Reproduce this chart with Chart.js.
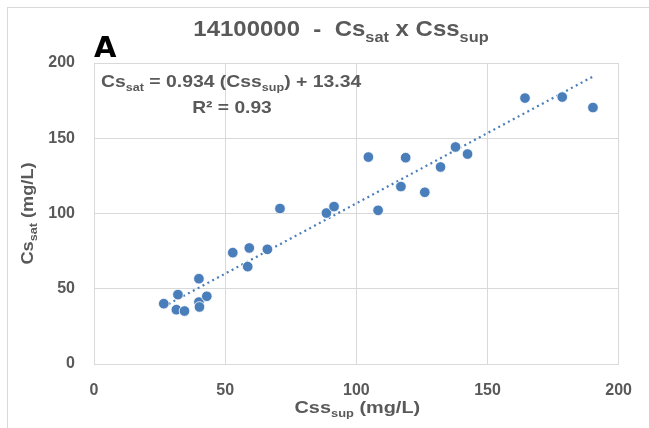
<!DOCTYPE html>
<html>
<head>
<meta charset="utf-8">
<script src="https://cdn.jsdelivr.net/npm/chart.js@4"></script>
<style>
  html, body { margin: 0; padding: 0; background: #fff; }
  #wrap { width: 649px; height: 428px; position: relative; }
</style>
</head>
<body>
<div id="wrap"><canvas id="chart"></canvas></div>
<script>
/* ── data ── */
const cssSup = [26.6, 32.0, 31.4, 34.5, 40.0, 40.0, 40.2, 43.0, 52.9, 59.2, 58.6, 66.1, 70.9,
                88.6, 91.5, 104.6, 108.3, 117.0, 118.8, 126.1, 132.1, 137.8, 142.4, 164.3, 178.5, 190.2];
const csSat  = [40.1, 46.1, 36.1, 35.2, 56.7, 41.2, 37.9, 45.0, 74.0, 77.1, 64.7, 76.2, 103.3,
                100.3, 104.6, 137.5, 102.1, 117.9, 137.1, 114.1, 130.9, 144.2, 139.5, 176.7, 177.4, 170.4];
const xTicks = [0, 50, 100, 150, 200];
const yTicks = [0, 50, 100, 150, 200];
const SLOPE = 0.934;
const INTERCEPT = 13.34;

const BLUE = '#4A7EBB';
const GRAY_TXT = '#595959';
const GRID = '#D9D9D9';
const FONT = '"Liberation Sans", Arial, sans-serif';

const points = cssSup.map((x, i) => ({ x, y: csSat[i] }));
const xMin = Math.min(...cssSup), xMax = Math.max(...cssSup);
const trend = [xMin, xMax].map(x => ({ x, y: SLOPE * x + INTERCEPT }));

/* draw text with subscripts: segs = [[text, isSub], ...] */
function richText(ctx, segs, x, y, size, align, sx) {
  sx = sx || 1;
  const subSize = Math.round(size * 0.66);
  let w = 0;
  segs.forEach(([t, sub]) => {
    ctx.font = 'bold ' + (sub ? subSize : size) + 'px ' + FONT;
    w += ctx.measureText(t).width;
  });
  ctx.save();
  ctx.translate(x, y);
  ctx.scale(sx, 1);
  let cx = align === 'center' ? -w / 2 : 0;
  ctx.textBaseline = 'alphabetic';
  ctx.textAlign = 'left';
  segs.forEach(([t, sub]) => {
    ctx.font = 'bold ' + (sub ? subSize : size) + 'px ' + FONT;
    ctx.fillText(t, cx, sub ? size * 0.25 : 0);
    cx += ctx.measureText(t).width;
  });
  ctx.restore();
}

const labelsPlugin = {
  id: 'labels',
  afterDraw(chart) {
    const ctx = chart.ctx;
    const a = chart.chartArea;
    // outer frame
    ctx.save();
    ctx.strokeStyle = '#D9D9D9';
    ctx.lineWidth = 1;
    ctx.strokeRect(7.5, 7.5, 700, 500);
    ctx.restore();

    ctx.save();
    ctx.fillStyle = GRAY_TXT;
    // title
    richText(ctx, [['14100000  -  Cs', false], ['sat', true], [' x Css', false], ['sup', true]],
      341, 36, 22, 'center', 1.09);
    // equation
    richText(ctx, [['Cs', false], ['sat', true], [' = 0.934 (Css', false], ['sup', true], [') + 13.34', false]],
      101, 87, 17, 'left', 1.14);
    richText(ctx, [['R² = 0.93', false]], 232, 113, 17, 'center', 1.13);
    // x axis title
    richText(ctx, [['Css', false], ['sup', true], [' (mg/L)', false]], (a.left + a.right) / 2 + 1, 413, 17, 'center', 1.17);
    // y axis title
    ctx.save();
    ctx.translate(33, (a.top + a.bottom) / 2);
    ctx.rotate(-Math.PI / 2);
    richText(ctx, [['Cs', false], ['sat', true], [' (mg/L)', false]], 0, 0, 16, 'center', 1.14);
    ctx.restore();
    ctx.restore();

    // panel letter
    ctx.save();
    ctx.fillStyle = '#000';
    ctx.font = 'bold 29px "DejaVu Sans", sans-serif';
    ctx.textAlign = 'left';
    ctx.textBaseline = 'alphabetic';
    ctx.translate(94, 57);
    ctx.scale(1.0, 1);
    ctx.fillText('A', 0, 0);
    ctx.restore();
  }
};

new Chart(document.getElementById('chart'), {
  type: 'scatter',
  data: {
    datasets: [
      {
        label: 'Cs sat',
        data: points,
        backgroundColor: BLUE,
        borderColor: '#ffffff',
        borderWidth: 0.8,
        pointRadius: 5.3,
        pointHoverRadius: 5.3,
      },
      {
        type: 'line',
        label: 'Trend',
        data: trend,
        borderColor: BLUE,
        borderWidth: 2.2,
        borderDash: [2, 3.5],
        pointRadius: 0,
        fill: false,
        tension: 0,
      }
    ]
  },
  options: {
    responsive: true,
    maintainAspectRatio: false,
    animation: false,
    layout: { padding: { left: 0, right: 28, top: 63, bottom: 0 } },
    plugins: { legend: { display: false }, tooltip: { enabled: false } },
    scales: {
      x: {
        type: 'linear',
        min: 0, max: 200,
        afterBuildTicks: s => { s.ticks = xTicks.map(v => ({ value: v })); },
        afterFit: s => { s.height = 64; },
        grid: { color: GRID, lineWidth: 1, drawTicks: false },
        border: { color: GRID },
        ticks: { color: GRAY_TXT, padding: 17, font: { family: FONT, size: 16, weight: 'bold' } },
      },
      y: {
        type: 'linear',
        min: 0, max: 200,
        afterBuildTicks: s => { s.ticks = yTicks.map(v => ({ value: v })); },
        afterFit: s => { s.width = 94; },
        grid: { color: GRID, lineWidth: 1, drawTicks: false },
        border: { color: GRID },
        ticks: { color: GRAY_TXT, padding: 19, font: { family: FONT, size: 16, weight: 'bold' } },
      }
    }
  },
  plugins: [labelsPlugin]
});
</script>
</body>
</html>
